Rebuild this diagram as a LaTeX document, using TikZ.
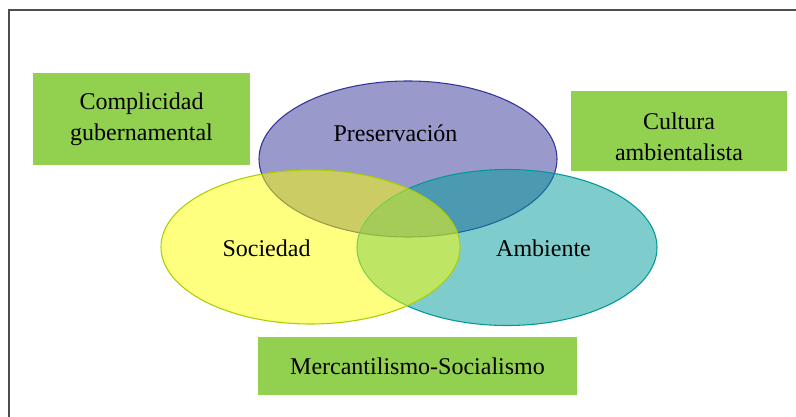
\documentclass[tikz,border=0pt]{standalone}
\usepackage{fontspec}
\setmainfont{Liberation Serif}
\definecolor{boxgreen}{HTML}{92D050}
\definecolor{framegray}{HTML}{4D4D4D}
\definecolor{presblue}{HTML}{333399}
\definecolor{socyellow}{HTML}{FFFF00}
\definecolor{socline}{HTML}{A8D000}
\definecolor{ambteal}{HTML}{009999}
\begin{document}
\begin{tikzpicture}[x=0.75pt,y=-0.75pt,
    lbl/.style={font=\fontsize{18}{23.25}\selectfont, inner sep=0pt},
    greenbox/.style={lbl, fill=boxgreen, align=center}]
    \useasboundingbox (0,0) rectangle (796,417);
    \clip (0,0) rectangle (796,417);
    \draw[line width=1.5pt, framegray] (8.5,430) -- (8.5,10) -- (810,10);

    % circles
    \draw[presblue, fill=presblue, fill opacity=0.5, line width=0.8pt] (408,159) ellipse [x radius=149, y radius=78];
    \draw[ambteal, fill=ambteal, fill opacity=0.5, line width=0.8pt] (507,247.5) ellipse [x radius=150, y radius=78];
    \draw[socline, fill=socyellow, fill opacity=0.5, line width=0.8pt] (310.5,247) ellipse [x radius=149.5, y radius=77];

    \node[lbl, anchor=base] (pres) at (395.5,142) {Preservación};
    \node[lbl, anchor=base] (soc) at (266.5,257) {Sociedad};
    \node[lbl, anchor=base] (amb) at (543.5,257) {Ambiente};

    % boxes
    \node[greenbox, minimum width=162.75pt, minimum height=69pt] (compl) at (141.5,119) {Complicidad\\gubernamental};
    \node[greenbox, minimum width=162pt, minimum height=60pt] (cult) at (679,131) {\rule{0pt}{21pt}Cultura\\ambientalista};
    \node[greenbox, minimum width=239.25pt, minimum height=43.5pt] (merc) at (417.5,366) {Mercantilismo-Socialismo};
\end{tikzpicture}
\end{document}
